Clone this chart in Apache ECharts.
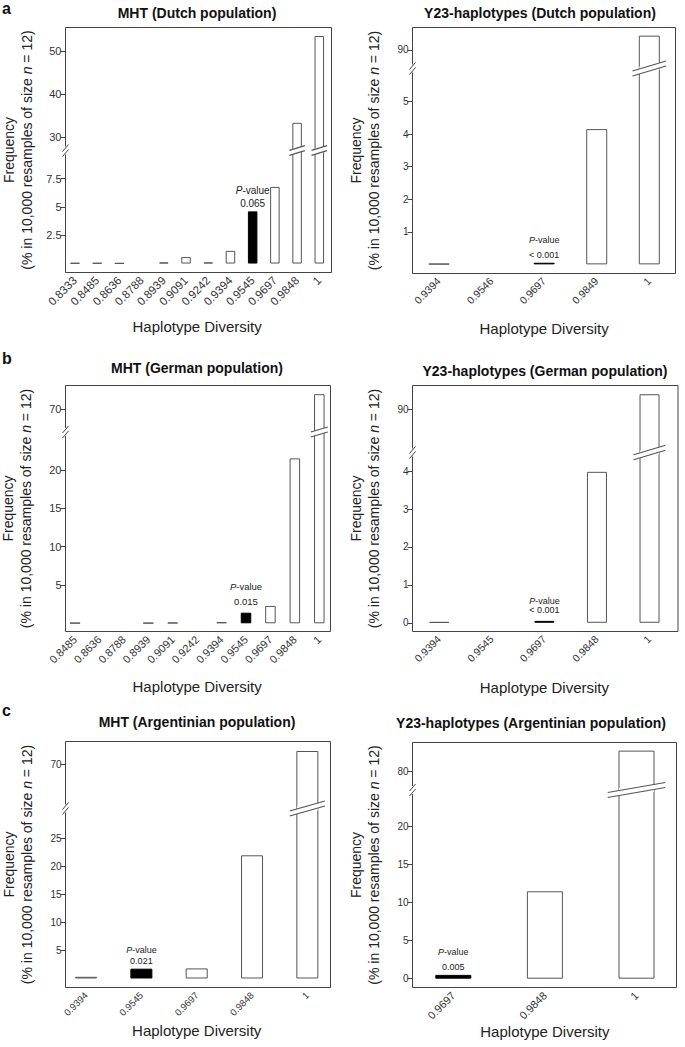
<!DOCTYPE html>
<html>
<head>
<meta charset="utf-8">
<script src="https://cdn.jsdelivr.net/npm/echarts@6/dist/echarts.min.js"></script>
<style>
html, body { margin: 0; padding: 0; background: #fff; }
#main { width: 685px; height: 1047px; }
</style>
</head>
<body>
<div id="main"></div>
<script>
// ---- data (frequency, % of 10,000 resamples) ----
var catsA1 = ['0.8333', '0.8485', '0.8636', '0.8788', '0.8939', '0.9091', '0.9242', '0.9394', '0.9545', '0.9697', '0.9848', '1'];
var freqA1 = [0.05, 0.05, 0.03, 0, 0.1, 0.57, 0.1, 1.12, 4.6, 6.76, 33.3, 53.5];
var upTicksA1 = [30, 40, 50];
var lowTicksA1 = [2.5, 5, 7.5];

var catsA2 = ['0.9394', '0.9546', '0.9697', '0.9849', '1'];
var freqA2 = [0.02, 0, 0.05, 4.15, 95.8];
var upTicksA2 = [90];
var lowTicksA2 = [1, 2, 3, 4, 5];

var catsB1 = ['0.8485', '0.8636', '0.8788', '0.8939', '0.9091', '0.9242', '0.9394', '0.9545', '0.9697', '0.9848', '1'];
var freqB1 = [0.05, 0, 0, 0.05, 0.08, 0, 0.15, 1.38, 2.26, 21.5, 74.5];
var upTicksB1 = [70];
var lowTicksB1 = [5, 10, 15, 20];

var catsB2 = ['0.9394', '0.9545', '0.9697', '0.9848', '1'];
var freqB2 = [0.02, 0, 0.05, 3.98, 96.0];
var upTicksB2 = [90];
var lowTicksB2 = [0, 1, 2, 3, 4];

var catsC1 = ['0.9394', '0.9545', '0.9697', '0.9848', '1'];
var freqC1 = [0.3, 1.75, 1.8, 22.0, 74.2];
var upTicksC1 = [70];
var lowTicksC1 = [5, 10, 15, 20, 25];

var catsC2 = ['0.9697', '0.9848', '1'];
var freqC2 = [0.5, 11.5, 88.0];
var upTicksC2 = [80];
var lowTicksC2 = [0, 5, 10, 15, 20];

var FONT = '"Liberation Sans", Arial, Helvetica, sans-serif';

// layout of the six panels (box = plot frame, brk = y of the axis break)
var panels = [
    { title: 'MHT (Dutch population)', tx: 197, ty: 13, cats: catsA1, freq: freqA1, up: upTicksA1, low: lowTicksA1, hi: 8, p: '0.065',
      box: [65.5, 27.5, 331.5, 272.5], brk: 150.5, gx: [63.9, 330.4], lowRange: [-0.79, 9.97], upRange: [26.86, 55.47],
      bw: 9.5, xfs: 11.5, yfs: 11, nameGap: 46, yName: 17.5, pfs: 10, pLh: 13.5, pDist: 1 },
    { title: 'Y23-haplotypes (Dutch population)', tx: 540, ty: 13, cats: catsA2, freq: freqA2, up: upTicksA2, low: lowTicksA2, hi: 2, p: '< 0.001',
      box: [412.5, 27.5, 675.5, 273.5], brk: 68.5, gx: [412.7, 675.6], lowRange: [-0.28, 6.01], upRange: [82.5, 99.1],
      bw: 21, xfs: 10.5, yfs: 10, nameGap: 47, yName: 365, pfs: 9, pLh: 15, pDist: 0 },
    { title: 'MHT (German population)', tx: 197, ty: 368, cats: catsB1, freq: freqB1, up: upTicksB1, low: lowTicksB1, hi: 7, p: '0.015',
      box: [65.5, 385.5, 330.5, 631.5], brk: 432, gx: [62.8, 331.5], lowRange: [-1.07, 24.94], upRange: [63.2, 77.1],
      bw: 10.5, xfs: 11, yfs: 11, nameGap: 47.5, yName: 16.5, pfs: 9.5, pLh: 15, pDist: 3.5 },
    { title: 'Y23-haplotypes (German population)', tx: 545, ty: 371, cats: catsB2, freq: freqB2, up: upTicksB2, low: lowTicksB2, hi: 2, p: '< 0.001',
      box: [412.5, 385.5, 678, 631.5], brk: 452.5, gx: [413, 675.8], lowRange: [-0.23, 4.49], upRange: [72.7, 99.5],
      bw: 20, xfs: 10.5, yfs: 10, nameGap: 48, yName: 365, pfs: 9, pLh: 9, pDist: 6 },
    { title: 'MHT (Argentinian population)', tx: 197, ty: 722, cats: catsC1, freq: freqC1, up: upTicksC1, low: lowTicksC1, hi: 1, p: '0.021',
      box: [65.5, 741.5, 330.5, 987.5], brk: 808.5, gx: [58.4, 335], lowRange: [-1.61, 30.36], upRange: [56.06, 77.2],
      bw: 22, xfs: 9.5, yfs: 10, nameGap: 35, yName: 17.5, pfs: 9, pLh: 11, pDist: 2.5 },
    { title: 'Y23-haplotypes (Argentinian population)', tx: 531, ty: 723, cats: catsC2, freq: freqC2, up: upTicksC2, low: lowTicksC2, hi: 0, p: '0.005',
      box: [412.5, 742.5, 676.5, 987.5], brk: 790, gx: [407.5, 682.3], lowRange: [-1.16, 24.83], upRange: [73.0, 91.1],
      bw: 36, xfs: 11, yfs: 10, nameGap: 35, yName: 364.5, pfs: 9, pLh: 15, pDist: 0 }
];

var chart = echarts.init(document.getElementById('main'), null, { renderer: 'svg' });

var grid = [], xAxis = [], yAxis = [], series = [];
var titles = [
    { text: 'a', left: 2, top: 0, padding: 0, textStyle: { fontSize: 16, fontWeight: 'bold', color: '#111', fontFamily: FONT, lineHeight: 16 } },
    { text: 'b', left: 2, top: 350, padding: 0, textStyle: { fontSize: 16, fontWeight: 'bold', color: '#111', fontFamily: FONT, lineHeight: 16 } },
    { text: 'c', left: 2, top: 702, padding: 0, textStyle: { fontSize: 16, fontWeight: 'bold', color: '#111', fontFamily: FONT, lineHeight: 16 } }
];

panels.forEach(function (p, k) {
    var ui = 2 * k, li = 2 * k + 1;
    var gw = p.gx[1] - p.gx[0];
    var yOff = p.gx[0] - p.box[0];

    titles.push({
        text: p.title, left: p.tx, top: p.ty - 8, textAlign: 'center', padding: 0,
        textStyle: { fontSize: 14, fontWeight: 'bold', color: '#111', fontFamily: FONT, lineHeight: 16 }
    });

    // upper (broken-off) part and lower part of each panel
    grid.push({ left: p.gx[0], top: p.box[1], width: gw, height: p.brk - p.box[1] });
    grid.push({ left: p.gx[0], top: p.brk, width: gw, height: p.box[3] - p.brk });

    xAxis.push({ gridIndex: ui, type: 'category', data: p.cats, show: false });
    xAxis.push({
        gridIndex: li, type: 'category', data: p.cats,
        axisLine: { show: false },
        axisTick: { alignWithLabel: true, length: 5, lineStyle: { color: '#444' } },
        axisLabel: { interval: 0, rotate: 45, fontSize: p.xfs, color: '#333', margin: 6, fontFamily: FONT },
        name: 'Haplotype Diversity', nameLocation: 'middle', nameGap: p.nameGap,
        nameTextStyle: { fontSize: 15, color: '#222', fontFamily: FONT }
    });

    function yax(gi, range, ticks) {
        return {
            gridIndex: gi, type: 'value', min: range[0], max: range[1], offset: yOff,
            axisLine: { show: false }, splitLine: { show: false },
            axisTick: { show: true, length: 5, customValues: ticks, lineStyle: { color: '#444' } },
            axisLabel: { customValues: ticks, fontSize: p.yfs, color: '#333', margin: 4, fontFamily: FONT }
        };
    }
    yAxis.push(yax(ui, p.upRange, p.up));
    yAxis.push(yax(li, p.lowRange, p.low));

    var lowMax = p.lowRange[1];
    function item(v, i, upper) {
        if (v === 0) return '-';
        if (upper && v <= lowMax) return '-';
        var d = { value: v };
        if (i === p.hi) {
            d.itemStyle = { color: '#000', borderColor: '#000' };
            if (!upper) {
                d.label = {
                    show: true, position: 'top', distance: p.pDist,
                    formatter: '{i|P}{n|-value}\n{n|' + p.p + '}',
                    rich: {
                        i: { fontStyle: 'italic', fontSize: p.pfs, lineHeight: p.pLh, color: '#222', fontFamily: FONT },
                        n: { fontSize: p.pfs, lineHeight: p.pLh, color: '#222', fontFamily: FONT }
                    }
                };
            }
        }
        return d;
    }
    var barStyle = { color: '#fff', borderColor: '#555', borderWidth: 1 };
    series.push({
        type: 'bar', xAxisIndex: li, yAxisIndex: li, barWidth: p.bw, clip: true, silent: true,
        itemStyle: barStyle, data: p.freq.map(function (v, i) { return item(v, i, false); })
    });
    series.push({
        type: 'bar', xAxisIndex: ui, yAxisIndex: ui, barWidth: p.bw, clip: true, silent: true,
        itemStyle: barStyle, data: p.freq.map(function (v, i) { return item(v, i, true); })
    });
});

chart.setOption({
    animation: false,
    backgroundColor: '#fff',
    title: titles,
    grid: grid,
    xAxis: xAxis,
    yAxis: yAxis,
    series: series
});

// frames, axis breaks, bar breaks and y-axis names
var g = [];
panels.forEach(function (p, k) {
    var b = p.box;
    g.push({ type: 'rect', z: 100, shape: { x: b[0], y: b[1], width: b[2] - b[0], height: b[3] - b[1] },
        style: { fill: 'none', stroke: '#444', lineWidth: 1 } });
    g.push({ type: 'rect', z: 101, shape: { x: b[0] - 3, y: p.brk - 4, width: 6, height: 8 }, style: { fill: '#fff' } });
    g.push({ type: 'line', z: 102, shape: { x1: b[0] - 3, y1: p.brk + 1, x2: b[0] + 3, y2: p.brk - 6 }, style: { stroke: '#444', lineWidth: 1 } });
    g.push({ type: 'line', z: 102, shape: { x1: b[0] - 3, y1: p.brk + 6, x2: b[0] + 3, y2: p.brk - 1 }, style: { stroke: '#444', lineWidth: 1 } });

    p.freq.forEach(function (v, i) {
        if (v <= p.lowRange[1]) return;
        var cx = chart.convertToPixel({ gridIndex: 2 * k + 1 }, [i, 0])[0];
        var w = p.bw;
        var ext = Math.max(3, w * 0.3);
        var x0 = cx - w / 2 - ext, x1 = cx + w / 2 + ext;
        var rise = Math.min(10, (x1 - x0) * 0.3);
        var gap = 5;
        var y0 = p.brk + rise / 2, y1 = p.brk - rise / 2;
        g.push({ type: 'rect', z: 101, shape: { x: cx - w / 2 + 0.5, y: p.brk - 2, width: w - 1, height: 4 }, style: { fill: '#fff' } });
        g.push({ type: 'polygon', z: 101, shape: { points: [[x0, y0 - gap / 2], [x1, y1 - gap / 2], [x1, y1 + gap / 2], [x0, y0 + gap / 2]] },
            style: { fill: '#fff' } });
        g.push({ type: 'line', z: 102, shape: { x1: x0, y1: y0 - gap / 2, x2: x1, y2: y1 - gap / 2 }, style: { stroke: '#555', lineWidth: 1.2 } });
        g.push({ type: 'line', z: 102, shape: { x1: x0, y1: y0 + gap / 2, x2: x1, y2: y1 + gap / 2 }, style: { stroke: '#555', lineWidth: 1.2 } });
    });

    g.push({
        type: 'text', z: 100, x: p.yName, y: (b[1] + b[3]) / 2, rotation: Math.PI / 2,
        style: {
            text: '{a|Frequency}\n{a|(% in 10,000 resamples of size }{i|n}{a| = 12)}',
            align: 'center', verticalAlign: 'middle',
            rich: {
                a: { fontSize: 14, lineHeight: 18, fill: '#222', fontFamily: FONT },
                i: { fontSize: 14, lineHeight: 18, fill: '#222', fontStyle: 'italic', fontFamily: FONT }
            }
        }
    });
});
chart.setOption({ graphic: g });
</script>
</body>
</html>
